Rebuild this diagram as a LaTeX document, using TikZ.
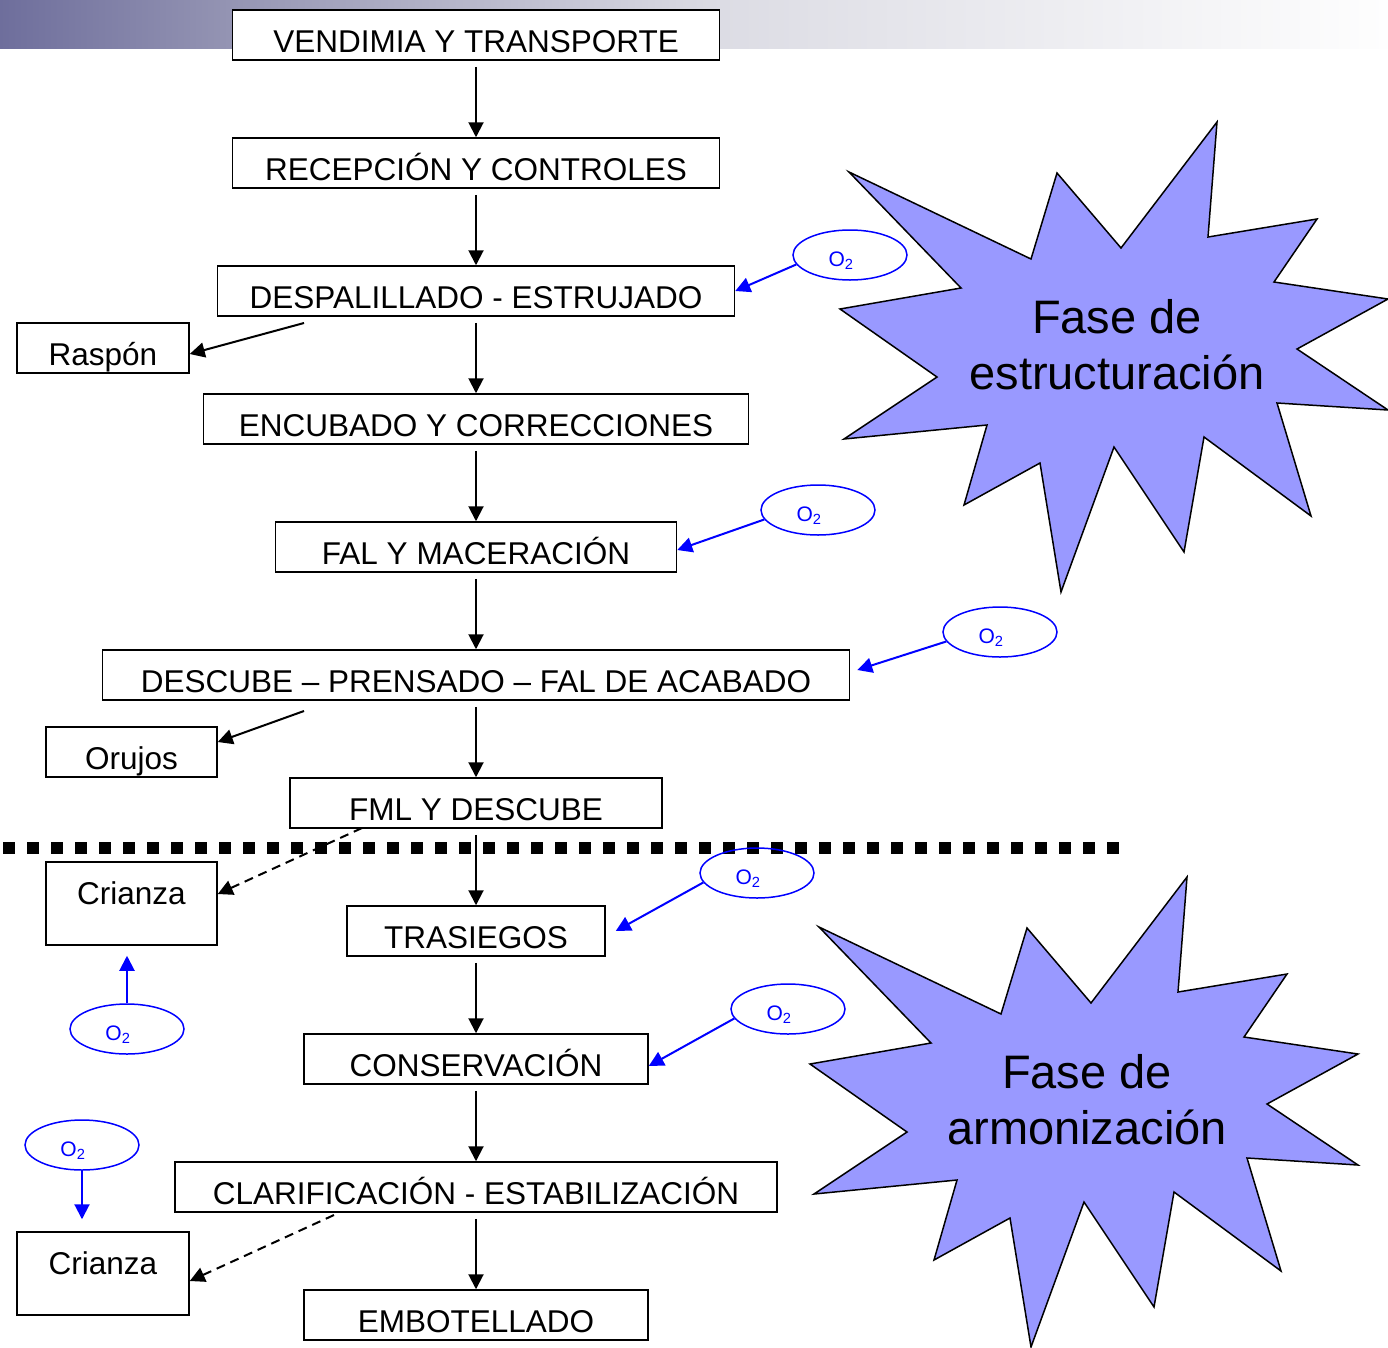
\documentclass[tikz,border=0pt]{standalone}
\usepackage{fontspec}
\setmainfont{Liberation Sans}
\usepackage{xcolor}
\usepackage{tikz}
\usetikzlibrary{shapes,shapes.geometric,arrows.meta,positioning}
\definecolor{banda0}{RGB}{110,110,156}
\definecolor{banda1}{RGB}{150,150,180}
\definecolor{banda2}{RGB}{220,220,228}
\definecolor{banda3}{RGB}{254,254,254}
\definecolor{lila}{RGB}{153,153,255}
\definecolor{oxigeno}{RGB}{0,0,255}
\tikzset{paso/.style={rectangle,draw,line width=1.5pt,fill=white,inner sep=0pt,text height=42pt,text depth=8pt,font=\fontsize{31.5}{36}\selectfont}}
\tikzset{crianza/.style={paso,text height=42pt,text depth=41pt}}
\tikzset{oxi/.style={ellipse,draw=oxigeno,text=oxigeno,line width=1.5pt,minimum width=114pt,minimum height=50pt,inner sep=0pt,text height=24pt,text depth=2pt,font=\fontsize{21}{24}\selectfont}}
\tikzset{fase/.style={align=center,font=\fontsize{47}{56}\selectfont}}
\tikzset{flecha/.style={->,line width=2pt}}
\tikzset{flechaoxi/.style={->,line width=2pt,color=oxigeno}}
\tikzset{estrella/.pic={
  \draw[fill=lila,line width=1.5pt,line join=miter]
    (849,172) -- (1031,259) -- (1057,173) -- (1121,248) -- (1217,122) -- (1208,237)
    -- (1317,219) -- (1274,282) -- (1388,299) -- (1297,349) -- (1388,410) -- (1277,403)
    -- (1311,516) -- (1204,437) -- (1184,552) -- (1114,447) -- (1061,592) -- (1040,463)
    -- (964,505) -- (987,425) -- (844,439) -- (937,377) -- (840,309) -- (961,288) -- cycle;
}}
\newcommand{\oxtxt}{\hspace*{-18pt}O\textsubscript{2}}

\begin{document}
\begin{tikzpicture}[x=1pt,y=-1pt,>={Triangle[length=15pt,width=15pt]}]
        \useasboundingbox (0,0) rectangle (1388,1347);

        % banda superior
        \shade[left color=banda0,right color=banda1] (0,0) rectangle (240,48);
        \shade[left color=banda1,right color=banda2] (239.5,0) rectangle (720,48);
        \shade[left color=banda2,right color=banda3] (719.5,0) rectangle (1388,48);

        % fases
        \pic at (0,0) {estrella};
        \pic at (-30,755) {estrella};
        \node[fase] (fase1) at (1117,345) {Fase de\\estructuración};
        \node[fase] (fase2) at (1087,1100) {Fase de\\armonización};

        % separador
        \draw[line width=12pt,dash pattern=on 12pt off 12pt] (3,848) -- (1122,848);

        \node[paso, minimum width=487pt] (vend) at (476,35) {VENDIMIA Y TRANSPORTE};
        \node[paso, minimum width=487pt] (recep) at (476,163) {RECEPCIÓN Y CONTROLES};
        \node[paso, minimum width=517pt] (desp) at (476,291) {DESPALILLADO - ESTRUJADO};
        \node[paso, minimum width=545pt] (encub) at (476,419) {ENCUBADO Y CORRECCIONES};
        \node[paso, minimum width=401pt] (fal) at (476,547) {FAL Y MACERACIÓN};
        \node[paso, minimum width=747pt] (desc) at (476,675) {DESCUBE – PRENSADO – FAL DE ACABADO};
        \node[paso, minimum width=372pt] (fml) at (476,803) {FML Y DESCUBE};
        \node[paso, minimum width=258pt] (tras) at (476,931) {TRASIEGOS};
        \node[paso, minimum width=344pt] (cons) at (476,1059) {CONSERVACIÓN};
        \node[paso, minimum width=602pt] (clar) at (476,1187) {CLARIFICACIÓN - ESTABILIZACIÓN};
        \node[paso, minimum width=344pt] (embot) at (476,1315) {EMBOTELLADO};

        \node[paso, minimum width=172pt] (rasp) at (103,348) {Raspón};
        \node[paso, minimum width=171pt] (oruj) at (131.5,752) {Orujos};
        \node[crianza, minimum width=171pt] (cri1) at (131.5,903.5) {Crianza};
        \node[crianza, minimum width=172pt] (cri2) at (103,1273.5) {Crianza};

        \node[oxi] (ox1) at (850,255) {\oxtxt};
        \node[oxi] (ox2) at (818,510) {\oxtxt};
        \node[oxi] (ox3) at (1000,632) {\oxtxt};
        \node[oxi] (ox4) at (757,873) {\oxtxt};
        \node[oxi] (ox5) at (788,1009) {\oxtxt};
        \node[oxi] (ox6) at (127,1029) {\oxtxt};
        \node[oxi] (ox7) at (82,1145) {\oxtxt};

        \coordinate (sr) at (304,323);
        \coordinate (so) at (304,711);
        \coordinate (sc1) at (362,828);
        \coordinate (sc2) at (334,1215);

        \draw [flecha, shorten <=6pt] (vend) to [] (recep);
        \draw [flecha, shorten <=6pt] (recep) to [] (desp);
        \draw [flecha, shorten <=6pt] (desp) to [] (encub);
        \draw [flecha, shorten <=6pt] (encub) to [] (fal);
        \draw [flecha, shorten <=6pt] (fal) to [] (desc);
        \draw [flecha, shorten <=6pt] (desc) to [] (fml);
        \draw [flecha, shorten <=6pt] (fml) to [] (tras);
        \draw [flecha, shorten <=6pt] (tras) to [] (cons);
        \draw [flecha, shorten <=6pt] (cons) to [] (clar);
        \draw [flecha, shorten <=6pt] (clar) to [] (embot);

        \draw [flecha] (sr) to [] ([yshift=-6pt]rasp.east);
        \draw [flecha] (so) to [] ([yshift=10pt]oruj.east);
        \draw [flecha, dash pattern=on 9pt off 6pt] (sc1) to [] ([yshift=9.5pt]cri1.east);
        \draw [flecha, dash pattern=on 9pt off 6pt] (sc2) to [] ([yshift=-7.5pt]cri2.east);

        \draw [flechaoxi] (ox1.190) to [] (desp.east);
        \draw [flechaoxi] (ox2.190) to [] ([yshift=-3pt]fal.east);
        \draw [flechaoxi] (ox3.190) to [] ([xshift=7pt,yshift=5pt]desc.east);
        \draw [flechaoxi] (ox4.190) to [] ([xshift=10pt]tras.east);
        \draw [flechaoxi] (ox5.190) to [] ([yshift=-7pt]cons.east);
        \draw [flechaoxi, shorten >=10pt] (ox6.north) to [] (ox6.north |- cri1.south);
        \draw [flechaoxi, shorten >=12pt] (ox7.south) to [] (ox7.south |- cri2.north);

    \end{tikzpicture}
\end{document}
